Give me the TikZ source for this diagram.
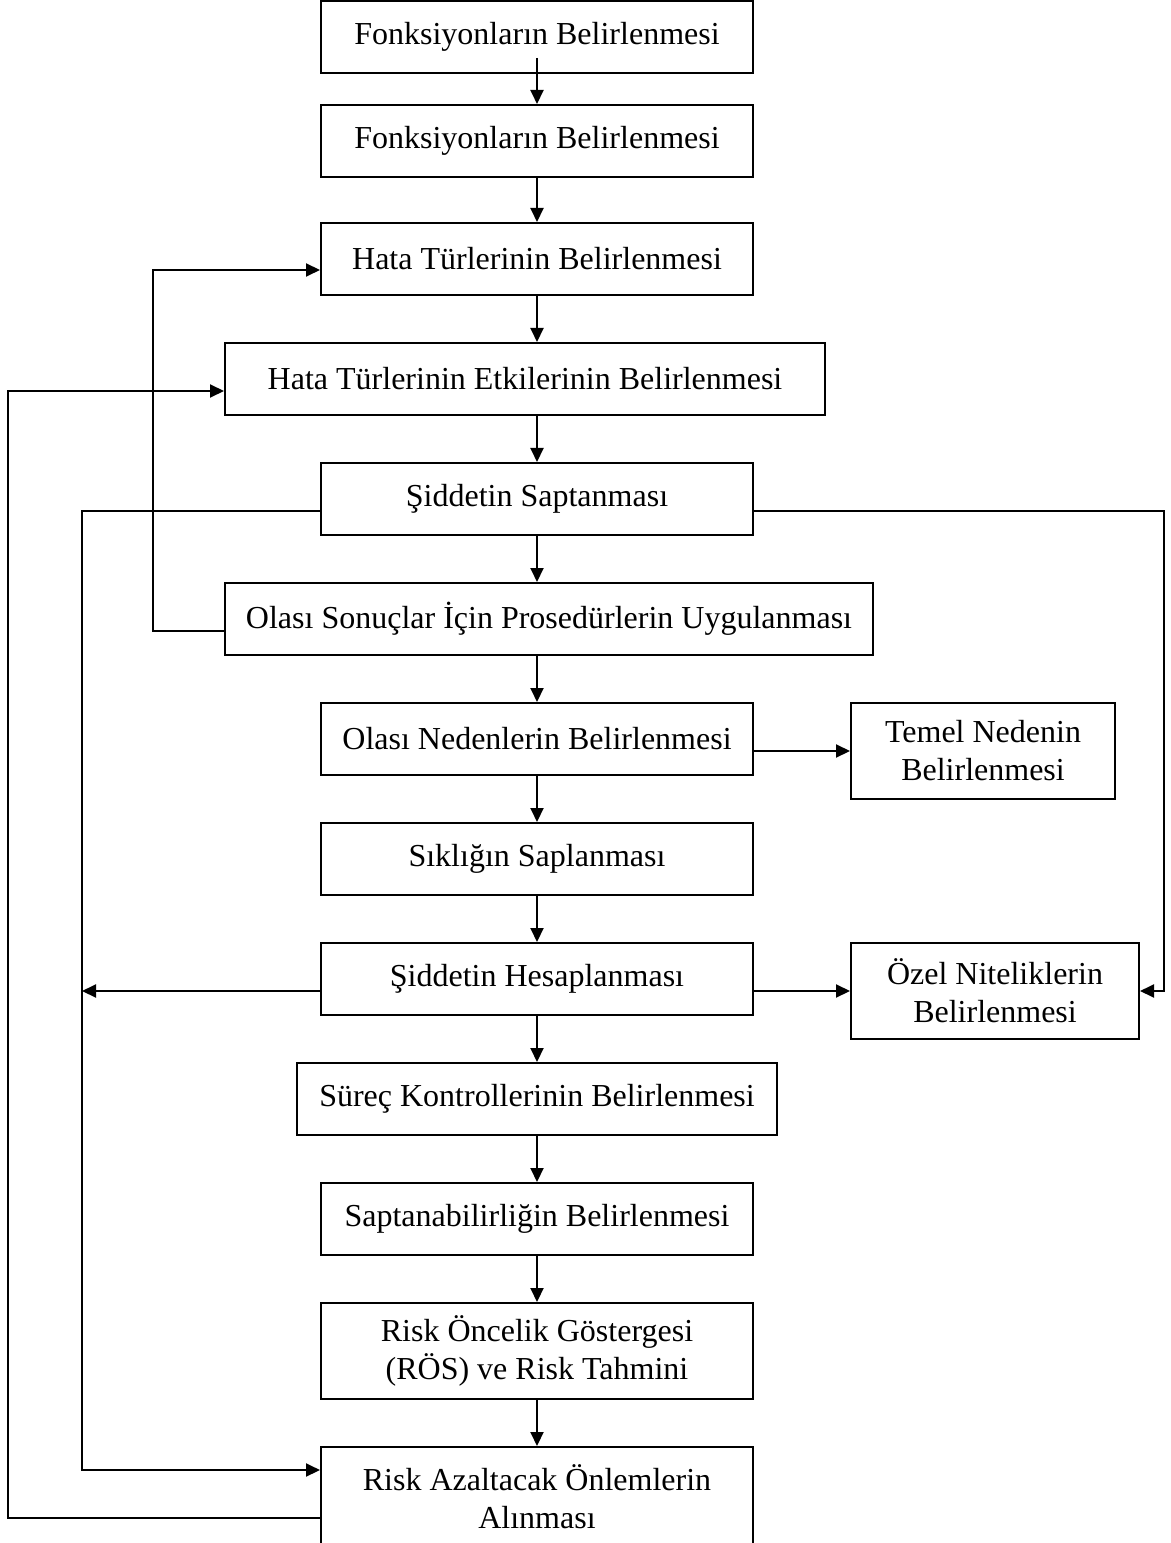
\documentclass[tikz,border=0pt]{standalone}
\usepackage{fontspec}
\setmainfont{Liberation Serif}
\usetikzlibrary{arrows.meta,positioning}

\begin{document}
\begin{tikzpicture}[
  node distance=18.4pt and 38.4pt,
  box/.style={draw, line width=0.8pt, align=center, minimum width=172.8pt, minimum height=28.8pt, inner sep=2pt, font=\fontsize{12.8}{15.2}\selectfont},
  tall/.style={minimum height=38.4pt},
  arr/.style={-{Triangle[length=5.6pt,width=5.2pt]}, line width=0.8pt},
  ln/.style={line width=0.8pt}
]
  \useasboundingbox (0,0) rectangle (468pt,-617.2pt);

  % main column
  \node[box, anchor=north] (fb1) at (214.8pt,0) {Fonksiyonların Belirlenmesi};
  \node[box, below=12pt of fb1] (fb2) {Fonksiyonların Belirlenmesi};
  \node[box, below=17.6pt of fb2] (htb) {Hata Türlerinin Belirlenmesi};
  \node[box, minimum width=240pt, below=of htb, xshift=-4.8pt] (hte) {Hata Türlerinin Etkilerinin Belirlenmesi};
  \node[box, below=of hte, xshift=4.8pt] (sds) {Şiddetin Saptanması};
  \node[box, minimum width=259.2pt, below=of sds, xshift=4.8pt] (osp) {Olası Sonuçlar İçin Prosedürlerin Uygulanması};
  \node[box, below=of osp, xshift=-4.8pt] (onb) {Olası Nedenlerin Belirlenmesi};
  \node[box, below=of onb] (sks) {Sıklığın Saplanması};
  \node[box, below=of sks] (sdh) {Şiddetin Hesaplanması};
  \node[box, minimum width=192pt, below=of sdh] (skb) {Süreç Kontrollerinin Belirlenmesi};
  \node[box, below=of skb] (sab) {Saptanabilirliğin Belirlenmesi};
  \node[box, tall, below=of sab] (rog) {Risk Öncelik Göstergesi\\(RÖS) ve Risk Tahmini};
  \node[box, tall, minimum height=40pt, below=of rog] (rao) {Risk Azaltacak Önlemlerin\\Alınması};

  % side boxes
  \node[box, tall, minimum width=105.6pt, anchor=north west] (tnb) at ([xshift=38.4pt]onb.north east) {Temel Nedenin\\Belirlenmesi};
  \node[box, tall, minimum width=115.2pt, anchor=north west] (onib) at ([xshift=38.4pt]sdh.north east) {Özel Niteliklerin\\Belirlenmesi};

  % loop columns
  \coordinate (colA) at (3.2pt,0);
  \coordinate (colB) at (32.8pt,0);
  \coordinate (colC) at (61.2pt,0);
  \coordinate (htin) at ([yshift=-4.4pt]htb.west);
  \coordinate (hein) at ([yshift=-4.8pt]hte.west);
  \coordinate (sdsw) at ([yshift=-4.8pt]sds.west);
  \coordinate (sdse) at ([yshift=-4.8pt]sds.east);
  \coordinate (ospw) at ([yshift=-4.8pt]osp.west);
  \coordinate (sdhw) at ([yshift=-4.8pt]sdh.west);
  \coordinate (sdhe) at ([yshift=-4.8pt]sdh.east);
  \coordinate (onbe) at ([yshift=-4.8pt]onb.east);
  \coordinate (raoin) at ([yshift=-9.6pt]rao.north west);
  \coordinate (raout) at ([yshift=-28.8pt]rao.north west);

  % straight arrows
  \draw[arr] ([yshift=6.4pt]fb1.south) -- (fb2.north);
  \draw[arr] (fb2) -- (htb);
  \draw[arr] (htb.south) -- (htb.south |- hte.north);
  \draw[arr] (sds.north |- hte.south) -- (sds.north);
  \draw[arr] (sds.south) -- (sds.south |- osp.north);
  \draw[arr] (onb.north |- osp.south) -- (onb.north);
  \draw[arr] (onb) -- (sks);
  \draw[arr] (sks) -- (sdh);
  \draw[arr] (sdh) -- (skb);
  \draw[arr] (skb) -- (sab);
  \draw[arr] (sab) -- (rog);
  \draw[arr] (rog) -- (rao);

  % side arrows
  \draw[arr] (onbe) -- (onbe -| tnb.west);
  \draw[arr] (sdhe) -- (sdhe -| onib.west);
  \draw[arr] (sdse) -| ([xshift=9.6pt]onib.east) -- (onib.east);
  \draw[arr] (sdhw) -- (sdhw -| colB);

  % feedback loops
  \draw[arr] (ospw) -- (ospw -| colC) -- (htin -| colC) -- (htin);
  \draw[arr] (raout) -- (raout -| colA) -- (hein -| colA) -- (hein);
  \draw[arr] (sdsw) -- (sdsw -| colB) -- (raoin -| colB) -- (raoin);
\end{tikzpicture}
\end{document}
